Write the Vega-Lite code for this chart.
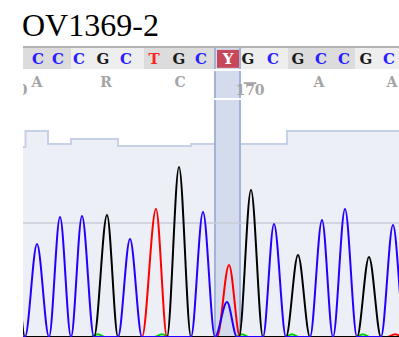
{
  "$schema": "https://vega.github.io/schema/vega-lite/v6.json",
  "autosize": {"type": "pad"},
  "padding": {"left": 22, "top": 10, "right": 0, "bottom": 0},
  "background": "white",
  "title": {
    "text": "OV1369-2",
    "anchor": "start",
    "font": "Liberation Serif",
    "fontSize": 32,
    "fontWeight": "normal",
    "color": "#000000",
    "offset": 2
  },
  "spacing": 0,
  "config": {"view": {"stroke": null}},
  "datasets": {
    "codons": [
      {"start": 22, "end": 70, "shade": "dark"},
      {"start": 70, "end": 143, "shade": "light"},
      {"start": 143, "end": 214, "shade": "dark"},
      {"start": 214, "end": 287, "shade": "light"},
      {"start": 287, "end": 354, "shade": "dark"},
      {"start": 354, "end": 399, "shade": "light"}
    ],
    "focus": [{"from": 214, "to": 239}],
    "calls": [
      {"scan": 37, "base": "C"}, {"scan": 57, "base": "C"}, {"scan": 78, "base": "C"},
      {"scan": 102, "base": "G"}, {"scan": 125, "base": "C"}, {"scan": 153, "base": "T"},
      {"scan": 178, "base": "G"}, {"scan": 200, "base": "C"}, {"scan": 247, "base": "G"},
      {"scan": 272, "base": "C"}, {"scan": 297, "base": "G"}, {"scan": 320, "base": "C"},
      {"scan": 343, "base": "C"}, {"scan": 365, "base": "G"}, {"scan": 388, "base": "C"}
    ],
    "ambiguous": [{"from": 216, "to": 238, "scan": 227, "base": "Y"}],
    "annotations": [
      {"scan": 36, "track": "aa", "label": "A"},
      {"scan": 105, "track": "aa", "label": "R"},
      {"scan": 179, "track": "aa", "label": "C"},
      {"scan": 249, "track": "aa", "label": "—"},
      {"scan": 318, "track": "aa", "label": "A"},
      {"scan": 391, "track": "aa", "label": "A"},
      {"scan": 12, "track": "pos", "label": "160"},
      {"scan": 249, "track": "pos", "label": "170"}
    ],
    "quality": [
      {"scan": 22, "q": 48},
      {"scan": 24.5, "q": 52},
      {"scan": 47, "q": 48.75},
      {"scan": 70, "q": 50},
      {"scan": 117, "q": 48.25},
      {"scan": 190, "q": 48.75},
      {"scan": 286, "q": 52},
      {"scan": 400, "q": 52}
    ],
    "traces": [
      {"dye": "A", "scan": 0, "signal": 0}, {"dye": "A", "scan": 89, "signal": 0},
      {"dye": "A", "scan": 97, "signal": 14}, {"dye": "A", "scan": 104, "signal": 0},
      {"dye": "A", "scan": 153, "signal": 0}, {"dye": "A", "scan": 161, "signal": 14},
      {"dye": "A", "scan": 169, "signal": 0}, {"dye": "A", "scan": 234, "signal": 0},
      {"dye": "A", "scan": 241, "signal": 14}, {"dye": "A", "scan": 248, "signal": 0},
      {"dye": "A", "scan": 284, "signal": 0}, {"dye": "A", "scan": 291, "signal": 14},
      {"dye": "A", "scan": 298, "signal": 0}, {"dye": "A", "scan": 355, "signal": 0},
      {"dye": "A", "scan": 362, "signal": 14}, {"dye": "A", "scan": 369, "signal": 0},
      {"dye": "A", "scan": 420, "signal": 0},

      {"dye": "T", "scan": 0, "signal": 0}, {"dye": "T", "scan": 141, "signal": 0},
      {"dye": "T", "scan": 155, "signal": 640}, {"dye": "T", "scan": 166, "signal": 0},
      {"dye": "T", "scan": 216, "signal": 0}, {"dye": "T", "scan": 228, "signal": 360},
      {"dye": "T", "scan": 239, "signal": 0}, {"dye": "T", "scan": 386, "signal": 0},
      {"dye": "T", "scan": 394, "signal": 14}, {"dye": "T", "scan": 402, "signal": 0},
      {"dye": "T", "scan": 420, "signal": 0},

      {"dye": "G", "scan": 0, "signal": 0}, {"dye": "G", "scan": 12, "signal": 560},
      {"dye": "G", "scan": 24, "signal": 0}, {"dye": "G", "scan": 93, "signal": 0},
      {"dye": "G", "scan": 106, "signal": 610}, {"dye": "G", "scan": 117, "signal": 0},
      {"dye": "G", "scan": 166, "signal": 0}, {"dye": "G", "scan": 178, "signal": 850},
      {"dye": "G", "scan": 190, "signal": 0}, {"dye": "G", "scan": 238, "signal": 0},
      {"dye": "G", "scan": 250, "signal": 735}, {"dye": "G", "scan": 262, "signal": 0},
      {"dye": "G", "scan": 285, "signal": 0}, {"dye": "G", "scan": 297, "signal": 410},
      {"dye": "G", "scan": 309, "signal": 0}, {"dye": "G", "scan": 356, "signal": 0},
      {"dye": "G", "scan": 368, "signal": 400}, {"dye": "G", "scan": 380, "signal": 0},
      {"dye": "G", "scan": 420, "signal": 0},

      {"dye": "C", "scan": 0, "signal": 0}, {"dye": "C", "scan": 24, "signal": 0},
      {"dye": "C", "scan": 36, "signal": 465}, {"dye": "C", "scan": 48, "signal": 0},
      {"dye": "C", "scan": 59, "signal": 600}, {"dye": "C", "scan": 70, "signal": 0},
      {"dye": "C", "scan": 81, "signal": 605}, {"dye": "C", "scan": 93, "signal": 0},
      {"dye": "C", "scan": 117, "signal": 0}, {"dye": "C", "scan": 129, "signal": 490},
      {"dye": "C", "scan": 141, "signal": 0}, {"dye": "C", "scan": 190, "signal": 0},
      {"dye": "C", "scan": 202, "signal": 625}, {"dye": "C", "scan": 214, "signal": 0},
      {"dye": "C", "scan": 226, "signal": 175}, {"dye": "C", "scan": 236, "signal": 0},
      {"dye": "C", "scan": 262, "signal": 0}, {"dye": "C", "scan": 273, "signal": 565},
      {"dye": "C", "scan": 285, "signal": 0}, {"dye": "C", "scan": 309, "signal": 0},
      {"dye": "C", "scan": 321, "signal": 585}, {"dye": "C", "scan": 332, "signal": 0},
      {"dye": "C", "scan": 344, "signal": 640}, {"dye": "C", "scan": 356, "signal": 0},
      {"dye": "C", "scan": 380, "signal": 0}, {"dye": "C", "scan": 392, "signal": 560},
      {"dye": "C", "scan": 404, "signal": 0}, {"dye": "C", "scan": 420, "signal": 0}
    ]
  },
  "vconcat": [
    {
      "width": 377,
      "height": 23,
      "layer": [
        {
          "data": {"name": "codons"},
          "mark": {"type": "rect"},
          "encoding": {
            "x": {"field": "start", "type": "quantitative", "scale": {"domain": [22, 399], "nice": false, "zero": false}, "axis": null},
            "x2": {"field": "end"},
            "color": {"field": "shade", "type": "nominal", "scale": {"domain": ["dark", "light"], "range": ["#dcdcdc", "#eeeeee"]}, "legend": null}
          }
        },
        {
          "data": {"name": "focus"},
          "mark": {"type": "rect", "color": "#d3dbec"},
          "encoding": {
            "x": {"field": "from", "type": "quantitative", "scale": {"domain": [22, 399], "nice": false, "zero": false}, "axis": null},
            "x2": {"field": "to"}
          }
        },
        {
          "data": {"name": "focus"},
          "mark": {"type": "rule", "color": "#a3b3d8", "strokeWidth": 2},
          "encoding": {"x": {"field": "from", "type": "quantitative", "scale": {"domain": [22, 399], "nice": false, "zero": false}, "axis": null}}
        },
        {
          "data": {"name": "focus"},
          "mark": {"type": "rule", "color": "#a3b3d8", "strokeWidth": 2},
          "encoding": {"x": {"field": "to", "type": "quantitative", "scale": {"domain": [22, 399], "nice": false, "zero": false}, "axis": null}}
        },
        {
          "data": {"values": [{"edge": "top"}]},
          "mark": {"type": "rule", "color": "#b2b2b2", "strokeWidth": 2},
          "encoding": {
            "y": {"datum": 0.96, "type": "quantitative", "scale": {"domain": [0, 1]}, "axis": null}
          }
        },
        {
          "data": {"name": "ambiguous"},
          "mark": {"type": "rect", "color": "#c7485a"},
          "encoding": {
            "x": {"field": "from", "type": "quantitative", "scale": {"domain": [22, 399], "nice": false, "zero": false}, "axis": null},
            "x2": {"field": "to"},
            "y": {"datum": 0.05, "type": "quantitative", "scale": {"domain": [0, 1]}, "axis": null},
            "y2": {"datum": 0.83}
          }
        },
        {
          "data": {"name": "ambiguous"},
          "mark": {"type": "text", "font": "DejaVu Serif", "fontSize": 15, "fontWeight": "bold", "color": "#ffffff", "baseline": "middle"},
          "encoding": {
            "x": {"field": "scan", "type": "quantitative", "scale": {"domain": [22, 399], "nice": false, "zero": false}, "axis": null},
            "y": {"datum": 0.45, "type": "quantitative", "scale": {"domain": [0, 1]}, "axis": null},
            "text": {"field": "base"}
          }
        },
        {
          "data": {"name": "calls"},
          "mark": {"type": "text", "font": "DejaVu Serif", "fontSize": 15, "fontWeight": "bold", "baseline": "middle"},
          "encoding": {
            "x": {"field": "scan", "type": "quantitative", "scale": {"domain": [22, 399], "nice": false, "zero": false}, "axis": null},
            "y": {"datum": 0.45, "type": "quantitative", "scale": {"domain": [0, 1]}, "axis": null},
            "text": {"field": "base"},
            "color": {"field": "base", "type": "nominal", "scale": {"domain": ["A", "C", "G", "T"], "range": ["#10b010", "#2a1dff", "#1a1a1a", "#ff2222"]}, "legend": null}
          }
        }
      ],
      "resolve": {"scale": {"color": "independent"}}
    },
    {
      "width": 377,
      "height": 27,
      "layer": [
        {
          "data": {"name": "focus"},
          "mark": {"type": "rect", "color": "#d3dbec"},
          "encoding": {
            "x": {"field": "from", "type": "quantitative", "scale": {"domain": [22, 399], "nice": false, "zero": false}, "axis": null},
            "x2": {"field": "to"}
          }
        },
        {
          "data": {"name": "focus"},
          "mark": {"type": "rule", "color": "#a3b3d8", "strokeWidth": 2},
          "encoding": {"x": {"field": "from", "type": "quantitative", "scale": {"domain": [22, 399], "nice": false, "zero": false}, "axis": null}}
        },
        {
          "data": {"name": "focus"},
          "mark": {"type": "rule", "color": "#a3b3d8", "strokeWidth": 2},
          "encoding": {"x": {"field": "to", "type": "quantitative", "scale": {"domain": [22, 399], "nice": false, "zero": false}, "axis": null}}
        },
        {
          "data": {"name": "annotations"},
          "mark": {"type": "text", "font": "DejaVu Serif", "fontSize": 14, "fontWeight": "bold", "color": "#a4a4a4", "baseline": "middle", "clip": true},
          "encoding": {
            "x": {"field": "scan", "type": "quantitative", "scale": {"domain": [22, 399], "nice": false, "zero": false}, "axis": null},
            "y": {"field": "track", "type": "nominal", "scale": {"type": "point", "domain": ["aa", "pos"], "range": [8, 24]}, "axis": null},
            "text": {"field": "label"}
          }
        }
      ]
    },
    {
      "width": 377,
      "height": 239,
      "layer": [
        {
          "data": {"name": "quality"},
          "mark": {"type": "area", "interpolate": "step-after", "color": "#e4e8f2", "line": {"color": "#c6d0e6", "strokeWidth": 2}, "clip": true},
          "encoding": {
            "x": {"field": "scan", "type": "quantitative", "scale": {"domain": [22, 399], "nice": false, "zero": false}, "axis": null},
            "y": {"field": "q", "type": "quantitative", "scale": {"domain": [0, 59.75], "nice": false}, "axis": null}
          }
        },
        {
          "data": {"name": "focus"},
          "mark": {"type": "rect", "color": "#d3dbec"},
          "encoding": {
            "x": {"field": "from", "type": "quantitative", "scale": {"domain": [22, 399], "nice": false, "zero": false}, "axis": null},
            "x2": {"field": "to"}
          }
        },
        {
          "data": {"name": "focus"},
          "mark": {"type": "rule", "color": "#a3b3d8", "strokeWidth": 2},
          "encoding": {"x": {"field": "from", "type": "quantitative", "scale": {"domain": [22, 399], "nice": false, "zero": false}, "axis": null}}
        },
        {
          "data": {"name": "focus"},
          "mark": {"type": "rule", "color": "#a3b3d8", "strokeWidth": 2},
          "encoding": {"x": {"field": "to", "type": "quantitative", "scale": {"domain": [22, 399], "nice": false, "zero": false}, "axis": null}}
        },
        {
          "data": {"values": [{"level": "mid"}]},
          "mark": {"type": "rule", "color": "#c8ccd8", "strokeWidth": 1.5},
          "encoding": {
            "y": {"datum": 570, "type": "quantitative", "scale": {"domain": [-10, 1185], "nice": false, "zero": false}, "axis": null}
          }
        },
        {
          "data": {"name": "traces"},
          "mark": {"type": "line", "interpolate": "monotone", "strokeWidth": 2, "clip": true},
          "encoding": {
            "x": {"field": "scan", "type": "quantitative", "scale": {"domain": [22, 399], "nice": false, "zero": false}, "axis": null},
            "y": {"field": "signal", "type": "quantitative", "scale": {"domain": [-10, 1185], "nice": false, "zero": false}, "axis": null},
            "color": {"field": "dye", "type": "nominal", "scale": {"domain": ["A", "G", "C", "T"], "range": ["#00d000", "#000000", "#2200ff", "#ff0000"]}, "legend": null},
            "order": {"field": "scan", "type": "quantitative"}
          }
        }
      ],
      "resolve": {"scale": {"y": "independent"}}
    }
  ]
}
